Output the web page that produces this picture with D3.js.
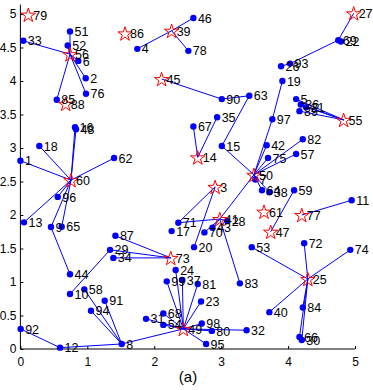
<!DOCTYPE html>
<html><head><meta charset="utf-8">
<script src="https://cdn.jsdelivr.net/npm/d3@7"></script>
<style>
html,body{margin:0;padding:0;background:#fff;}
svg{display:block;font-family:"Liberation Sans",Arial,sans-serif;}
</style></head>
<body><svg id="c" width="373" height="390"></svg>
<script>
// point (dot) ids and coordinates
const dotIds = [1,2,4,5,6,7,8,9,10,11,12,13,15,16,17,18,19,20,21,22,23,24,26,28,29,30,31,32,33,34,35,36,37,38,40,42,43,44,46,48,51,52,53,54,57,58,59,62,63,64,65,66,67,68,69,70,71,72,74,75,76,78,80,81,82,83,84,85,87,89,90,91,92,93,94,95,96,97,98,99];
const dotX = [0.00,0.976,1.747,4.12,0.865,3.51,1.514,0.457,0.741,4.95,0.592,0.054,3.01,0.816,2.26,0.283,3.915,2.595,4.27,4.79,2.70,2.32,3.895,3.09,1.34,4.205,1.877,3.38,0.043,1.389,2.94,4.19,2.42,3.72,3.72,3.68,2.87,0.741,2.585,0.831,0.741,0.707,3.457,2.136,4.12,0.955,4.09,1.40,3.42,3.61,0.617,4.17,2.585,2.136,4.75,2.75,2.36,4.24,4.93,3.70,0.98,2.51,2.86,2.65,4.22,3.28,4.22,0.543,1.42,4.17,3.01,1.26,0.004,4.03,1.055,2.775,0.558,3.765,2.71,2.187];
const dotY = [2.81,4.04,4.48,3.73,4.30,2.53,0.075,1.82,0.82,2.22,0.02,1.89,3.03,3.31,1.76,3.03,4.00,1.52,3.61,4.59,0.71,1.18,4.22,1.91,1.48,0.134,0.45,0.28,4.60,1.36,3.46,3.65,1.03,2.34,0.55,3.04,1.81,1.115,4.94,3.28,4.74,4.53,1.52,0.36,2.91,0.89,2.37,2.85,3.78,2.37,1.825,0.18,3.32,0.53,4.61,1.74,1.885,1.58,1.48,2.85,3.81,4.45,0.27,0.97,3.13,0.98,0.62,3.72,1.69,3.55,3.73,0.72,0.30,4.26,0.57,0.075,2.27,3.43,0.38,1.01];
// centre (star) ids and coordinates
const starIds = [3,14,25,27,39,41,45,47,49,50,55,56,60,61,73,77,79,86,88];
const starX = [2.91,2.65,4.295,4.98,2.26,2.98,2.11,3.74,2.435,3.49,4.83,0.741,0.756,3.64,2.247,4.205,0.118,1.563,0.677];
const starY = [2.42,2.86,1.045,5.01,4.75,1.94,4.03,1.75,0.30,2.60,3.42,4.40,2.52,2.05,1.36,2.00,4.99,4.71,3.66];
// links between ids
const edgeFrom = [56,56,56,56,56,56,56,39,39,39,45,90,63,15,35,67,27,69,93,69,19,97,42,75,82,57,64,38,7,50,55,55,55,55,60,60,60,60,60,60,60,60,60,9,10,73,73,73,3,3,41,41,41,41,41,47,77,25,25,25,25,25,25,25,49,49,49,49,49,49,49,49,49,49,49,49,49,8,12,8,8,8];
const edgeTo   = [33,51,52,6,2,76,85,4,46,78,90,63,15,50,14,14,69,93,26,22,97,50,50,50,50,50,50,50,50,41,5,36,21,89,16,48,18,1,62,96,13,9,65,44,29,29,34,87,71,20,71,28,43,70,83,59,11,53,72,74,40,84,66,30,24,99,37,81,23,68,54,31,98,80,32,95,8,12,92,58,94,91];
const xTicks = [0,1,2,3,4,5];
const yTicks = [0,0.5,1,1.5,2,2.5,3,3.5,4,4.5,5];
const caption = "(a)";

const svg = d3.select("#c");
const x = d3.scaleLinear().domain([0,5]).range([20.4,355]);
const y = d3.scaleLinear().domain([0,5]).range([349,14]);

const pos = new Map();
dotIds.forEach((id,i)=>pos.set(id,[dotX[i],dotY[i]]));
starIds.forEach((id,i)=>pos.set(id,[starX[i],starY[i]]));

// axes
const gx = svg.append("g").attr("transform",`translate(0,${y(0)})`)
  .call(d3.axisBottom(x).tickValues(xTicks).tickSize(-3).tickPadding(8).tickFormat(d3.format("d")));
const gy = svg.append("g").attr("transform",`translate(${x(0)},0)`)
  .call(d3.axisLeft(y).tickValues(yTicks).tickSize(-3).tickPadding(4).tickFormat(d=>String(d)));
[gx,gy].forEach(g=>{
  g.select(".domain").remove();
  g.selectAll("line").attr("stroke","#000");
  g.selectAll("text").attr("font-size","12px").attr("fill","#000").attr("font-family","Liberation Sans, Arial, sans-serif");
});
svg.append("line").attr("x1",x(0)).attr("x2",x(5)).attr("y1",y(0)).attr("y2",y(0)).attr("stroke","#000");
svg.append("line").attr("x1",x(0)).attr("x2",x(0)).attr("y1",y(0)).attr("y2",y(5.14)).attr("stroke","#000");

// edges
svg.append("g").selectAll("line").data(edgeFrom.map((f,i)=>[f,edgeTo[i]])).join("line")
  .attr("x1",d=>x(pos.get(d[0])[0])).attr("y1",d=>y(pos.get(d[0])[1]))
  .attr("x2",d=>x(pos.get(d[1])[0])).attr("y2",d=>y(pos.get(d[1])[1]))
  .attr("stroke","#0000ff").attr("stroke-width",1);

// dots
svg.append("g").selectAll("circle").data(dotIds).join("circle")
  .attr("cx",(d,i)=>x(dotX[i])).attr("cy",(d,i)=>y(dotY[i])).attr("r",3.2).attr("fill","#0000ff");

// stars
function starPath(R){
  const r=R*0.382, pts=[];
  for(let k=0;k<10;k++){
    const a=-Math.PI/2+k*Math.PI/5, rr=k%2?r:R;
    pts.push([rr*Math.cos(a),rr*Math.sin(a)]);
  }
  return "M"+pts.map(p=>p[0].toFixed(2)+","+p[1].toFixed(2)).join("L")+"Z";
}
svg.append("g").selectAll("path").data(starIds).join("path")
  .attr("d",starPath(7.5))
  .attr("transform",(d,i)=>`translate(${x(starX[i])},${y(starY[i])+0.8})`)
  .attr("fill","none").attr("stroke","#ff0000").attr("stroke-width",1);

// labels
const lab = svg.append("g").attr("font-size","12.5px").attr("fill","#000");
dotIds.forEach((id,i)=>lab.append("text").attr("x",x(dotX[i])+4.5).attr("y",y(dotY[i])+4.6).text(id));
starIds.forEach((id,i)=>lab.append("text").attr("x",x(starX[i])+5).attr("y",y(starY[i])+5).text(id));

svg.append("text").attr("x",188).attr("y",382).attr("text-anchor","middle")
  .attr("font-size","15px").attr("fill","#000").text(caption);
</script></body></html>
